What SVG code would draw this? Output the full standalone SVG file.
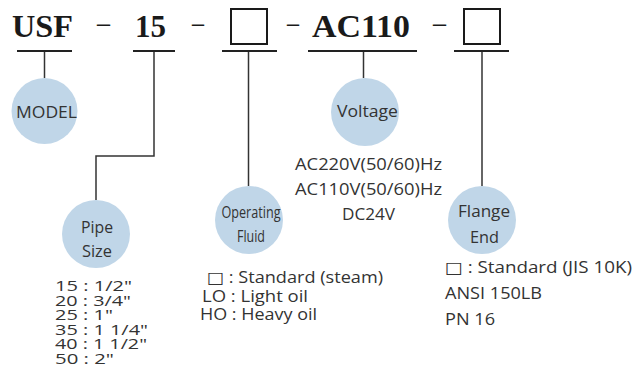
<svg xmlns="http://www.w3.org/2000/svg" width="634" height="392" viewBox="0 0 634 392">
<style>
.hdr{font-family:"Liberation Serif","Times New Roman",serif;font-weight:bold;font-size:32px;fill:#1a1a1a}
.dash{font-family:"Liberation Serif","Times New Roman",serif;font-size:32px;fill:#1a1a1a}
.box{fill:none;stroke:#1a1a1a;stroke-width:2}
.ul{stroke:#222;stroke-width:2;fill:none}
.ln{stroke:#333;stroke-width:1.5;fill:none}
.bub{fill:#c0d6e8}
.lbl{font-family:"Open Sans","Noto Sans","DejaVu Sans",sans-serif;font-size:16px;fill:#333;text-anchor:middle}
.txt{font-family:"Open Sans","Noto Sans","DejaVu Sans",sans-serif;font-size:16px;fill:#333}
.sm{font-size:14.5px}
</style>
<rect width="634" height="392" fill="#ffffff"/>
<g id="code">
<text class="hdr" x="12" y="37" textLength="61" lengthAdjust="spacingAndGlyphs">USF</text>
<text class="dash" x="97" y="32.5" textLength="13" lengthAdjust="spacingAndGlyphs">–</text>
<text class="hdr" x="135" y="37" textLength="31" lengthAdjust="spacingAndGlyphs">15</text>
<text class="dash" x="192" y="32.5" textLength="12" lengthAdjust="spacingAndGlyphs">–</text>
<rect class="box" x="231" y="9" width="36" height="35"/>
<text class="dash" x="287" y="32.5" textLength="12" lengthAdjust="spacingAndGlyphs">–</text>
<text class="hdr" x="312" y="37" textLength="98" lengthAdjust="spacingAndGlyphs">AC110</text>
<text class="dash" x="433" y="32.5" textLength="13" lengthAdjust="spacingAndGlyphs">–</text>
<rect class="box" x="464" y="9" width="36" height="35"/>
</g>
<g id="connectors">
<line class="ul" x1="17" y1="51" x2="72" y2="51"/>
<line class="ul" x1="133" y1="51" x2="175" y2="51"/>
<line class="ul" x1="222" y1="51" x2="277" y2="51"/>
<line class="ul" x1="308" y1="51" x2="417" y2="51"/>
<line class="ul" x1="454" y1="51" x2="509" y2="51"/>
<line class="ln" x1="44.5" y1="52" x2="44.5" y2="78"/>
<polyline class="ln" points="154,52 154,156 96,156 96,200"/>
<line class="ln" x1="248.5" y1="52" x2="248.5" y2="186"/>
<line class="ln" x1="363.5" y1="52" x2="363.5" y2="78"/>
<line class="ln" x1="482" y1="52" x2="482" y2="186"/>
</g>
<g id="model">
<circle class="bub" cx="44.5" cy="111" r="33"/>
<text class="lbl" x="46.5" y="118" textLength="61" lengthAdjust="spacingAndGlyphs">MODEL</text>
</g>
<g id="pipe-size">
<circle class="bub" cx="96" cy="234" r="34"/>
<text class="lbl" x="97" y="233" textLength="32" lengthAdjust="spacingAndGlyphs">Pipe</text>
<text class="lbl" x="97" y="257" textLength="30" lengthAdjust="spacingAndGlyphs">Size</text>
<text class="txt sm" x="55" y="291" textLength="77" lengthAdjust="spacingAndGlyphs">15 : 1/2"</text>
<text class="txt sm" x="55" y="305.5" textLength="76" lengthAdjust="spacingAndGlyphs">20 : 3/4"</text>
<text class="txt sm" x="55" y="320" textLength="58" lengthAdjust="spacingAndGlyphs">25 : 1"</text>
<text class="txt sm" x="55" y="334.5" textLength="93" lengthAdjust="spacingAndGlyphs">35 : 1 1/4"</text>
<text class="txt sm" x="55" y="349" textLength="92" lengthAdjust="spacingAndGlyphs">40 : 1 1/2"</text>
<text class="txt sm" x="55" y="363.5" textLength="59" lengthAdjust="spacingAndGlyphs">50 : 2"</text>
</g>
<g id="operating-fluid">
<circle class="bub" cx="249" cy="220" r="34"/>
<text class="lbl" x="251" y="218" textLength="59" lengthAdjust="spacingAndGlyphs">Operating</text>
<text class="lbl" x="251" y="242" textLength="28" lengthAdjust="spacingAndGlyphs">Fluid</text>
<text class="txt" x="207" y="283" textLength="176" lengthAdjust="spacingAndGlyphs">□ : Standard (steam)</text>
<text class="txt" x="202" y="302" textLength="106" lengthAdjust="spacingAndGlyphs">LO : Light oil</text>
<text class="txt" x="200" y="320" textLength="117" lengthAdjust="spacingAndGlyphs">HO : Heavy oil</text>
</g>
<g id="voltage">
<circle class="bub" cx="365" cy="112" r="34"/>
<text class="lbl" x="367.5" y="117" textLength="61" lengthAdjust="spacingAndGlyphs">Voltage</text>
<text class="txt" x="295" y="170" textLength="147" lengthAdjust="spacingAndGlyphs">AC220V(50/60)Hz</text>
<text class="txt" x="295" y="195" textLength="147" lengthAdjust="spacingAndGlyphs">AC110V(50/60)Hz</text>
<text class="txt" x="342" y="220" textLength="53" lengthAdjust="spacingAndGlyphs">DC24V</text>
</g>
<g id="flange-end">
<circle class="bub" cx="482" cy="220" r="34"/>
<text class="lbl" x="484" y="217" textLength="52" lengthAdjust="spacingAndGlyphs">Flange</text>
<text class="lbl" x="484.5" y="243" textLength="29" lengthAdjust="spacingAndGlyphs">End</text>
<text class="txt" x="445" y="273" textLength="187" lengthAdjust="spacingAndGlyphs">□ : Standard (JIS 10K)</text>
<text class="txt" x="445" y="299" textLength="97" lengthAdjust="spacingAndGlyphs">ANSI 150LB</text>
<text class="txt" x="445" y="325" textLength="50" lengthAdjust="spacingAndGlyphs">PN 16</text>
</g>
</svg>
